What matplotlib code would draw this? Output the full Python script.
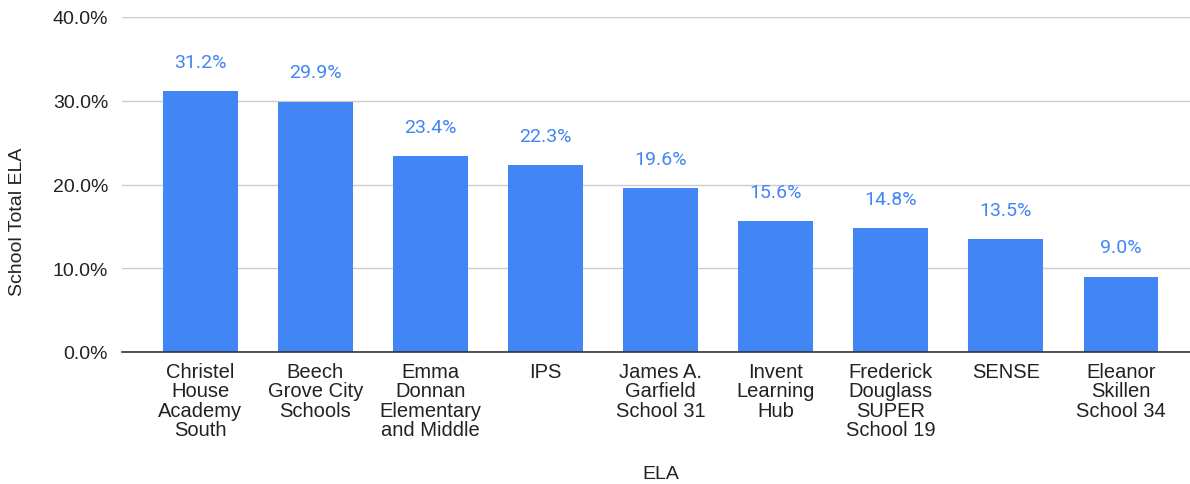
import matplotlib
matplotlib.use("Agg")
import matplotlib.pyplot as plt
from matplotlib.ticker import FuncFormatter

categories = ["Christel\nHouse\nAcademy\nSouth", "Beech\nGrove City\nSchools",
              "Emma\nDonnan\nElementary\nand Middle", "IPS", "James A.\nGarfield\nSchool 31",
              "Invent\nLearning\nHub", "Frederick\nDouglass\nSUPER\nSchool 19", "SENSE",
              "Eleanor\nSkillen\nSchool 34"]
values = [31.2, 29.9, 23.4, 22.3, 19.6, 15.6, 14.8, 13.5, 9.0]
yticks = [0, 10, 20, 30, 40]

plt.rcParams['font.family'] = ['Liberation Sans', 'DejaVu Sans']

fig = plt.figure(figsize=(11.9, 4.85), dpi=100)
ax = fig.add_axes([122/1190, 1-353/485, 1-122/1190, (353-18)/485])

bar_color = "#4285F4"
x = list(range(len(values)))
ax.bar(x, values, width=0.65, color=bar_color, zorder=3)
for xi, v in zip(x, values):
    ax.annotate(f"{v:.1f}%", (xi, v), xytext=(0, 21), textcoords="offset points",
                ha="center", va="center", fontsize=14, color=bar_color,
                family=["Roboto", "DejaVu Sans"])

ax.set_xlim(-0.68, len(values) - 1 + 0.6)
ax.set_ylim(0, 40)
ax.set_yticks(yticks)
ax.yaxis.set_major_formatter(FuncFormatter(lambda v, p: f"{v:.1f}%"))
ax.set_xticks(x)
ax.set_xticklabels(categories, fontsize=14.5, color="#222222", linespacing=1.03)
ax.tick_params(axis="y", length=0, pad=10, labelsize=14, labelcolor="#222222")
ax.tick_params(axis="x", length=0, pad=7)
ax.grid(axis="y", color="#cccccc", linewidth=1, zorder=0)
for s in ["top", "right", "left"]:
    ax.spines[s].set_visible(False)
ax.spines["bottom"].set_color("#333333")
ax.spines["bottom"].set_linewidth(1.2)
ax.spines["bottom"].set_zorder(4)

fig.text(18/1190, 1-222/485, "School Total ELA", rotation=90, ha="center", va="center",
         fontsize=14, color="#222222")
fig.text(661/1190, 1-475/485, "ELA", ha="center", va="center", fontsize=14, color="#222222")

fig.savefig("out.png", dpi=100)
